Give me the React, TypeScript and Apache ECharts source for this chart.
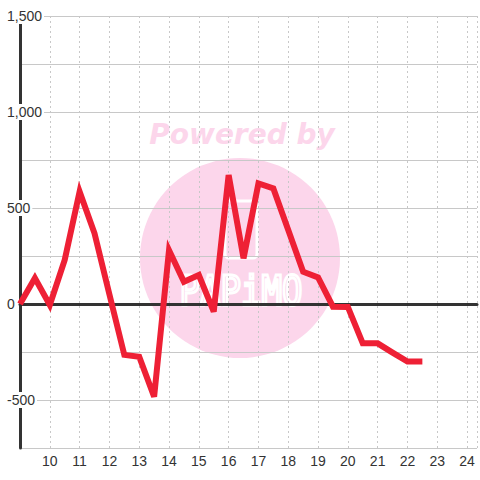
import React, { useEffect, useRef } from "react";
import * as echarts from "echarts";

const xValues = [9, 9.5, 10, 10.5, 11, 11.5, 12, 12.5, 13, 13.5, 14, 14.5, 15, 15.5, 16, 16.5, 17, 17.5, 18, 18.5, 19, 19.5, 20, 20.5, 21, 21.5, 22, 22.5];
const yValues = [0, 135, -5, 230, 585, 368, 50, -265, -275, -483, 280, 116, 151, -40, 672, 238, 628, 602, 385, 168, 138, -14, -15, -205, -205, -253, -300, -300];
const yTickStep = 250;
const yLabelStep = 500;
const xMin = 9;
const xMax = 24.3333;
const yMin = -750;
const yMax = 1500;
const watermarkTitle = "Powered by";
const watermarkBrand = "PAPiMO";

export default function App() {
  const ref = useRef<HTMLDivElement>(null);
  useEffect(() => {
    if (!ref.current) return;
    const chart = echarts.init(ref.current, null, { renderer: "svg" });
    const font = "'Liberation Sans', Arial, sans-serif";
    chart.setOption({
      animation: false,
      backgroundColor: "#ffffff",
      grid: { left: 20, right: 0, top: 16, bottom: 32, containLabel: false },
      graphic: [
        {
          type: "circle",
          z: -10,
          shape: { cx: 240, cy: 258, r: 100 },
          style: { fill: "#fcd6eb" },
          silent: true,
        },
        {
          type: "text",
          z: -10,
          x: 242,
          y: 134,
          style: {
            text: watermarkTitle,
            fill: "#fcd6eb",
            font: "italic bold 28px 'DejaVu Sans', sans-serif",
            align: "center",
            verticalAlign: "middle",
          },
          silent: true,
        },
        {
          type: "rect",
          z: -9,
          shape: { x: 225, y: 201, width: 32, height: 57, r: 4 },
          style: { fill: "none", stroke: "#ffffff", lineWidth: 3 },
          silent: true,
        },
        {
          type: "text",
          z: -9,
          x: 241,
          y: 291,
          scaleY: 1.2,
          style: {
            text: watermarkBrand,
            fill: "none",
            stroke: "#ffffff",
            lineWidth: 2.5,
            font: "34px 'DejaVu Sans Mono', monospace",
            align: "center",
            verticalAlign: "middle",
          },
          silent: true,
        },
      ],
      xAxis: [
        {
          type: "value",
          min: xMin,
          max: xMax,
          interval: 1,
          axisLine: { show: false, onZero: false },
          axisTick: { show: false },
          axisLabel: {
            color: "#333",
            fontSize: 14,
            fontFamily: font,
            margin: 6,
            formatter: (v: number) => (Number.isInteger(v) && v > xMin ? String(v) : ""),
          },
          splitLine: { show: true, lineStyle: { color: "#c8c8c8", type: [2, 3], width: 1 } },
        },
        {
          type: "value",
          min: xMin,
          max: xMax,
          position: "bottom",
          axisLine: { show: true, onZero: true, lineStyle: { color: "#333", width: 3 } },
          axisTick: { show: false },
          axisLabel: { show: false },
          splitLine: { show: false },
        },
      ],
      yAxis: {
        type: "value",
        min: yMin,
        max: yMax,
        interval: yTickStep,
        axisLine: { show: true, lineStyle: { color: "#333", width: 3 } },
        axisTick: { show: false },
        splitLine: { show: true, lineStyle: { color: "#c8c8c8", width: 1 } },
        axisLabel: {
          align: "left",
          margin: 13,
          formatter: (v: number) =>
            v % yLabelStep === 0 ? "{a|" + v.toLocaleString("en-US") + "}" : "",
          rich: {
            a: {
              color: "#333",
              fontSize: 14,
              fontFamily: font,
              backgroundColor: "#ffffff",
              padding: [1, 2, 1, 0],
            },
          },
        },
      },
      series: [
        {
          type: "line",
          xAxisIndex: 0,
          data: xValues.map((x, i) => [x, yValues[i]]),
          showSymbol: false,
          symbol: "none",
          lineStyle: { color: "#ee2035", width: 6, join: "miter", cap: "butt" },
          z: 3,
        },
      ],
    });
    return () => chart.dispose();
  }, []);
  return (
    <div
      ref={ref}
      style={{ position: "absolute", left: 0, top: 0, width: 480, height: 480 }}
    />
  );
}
